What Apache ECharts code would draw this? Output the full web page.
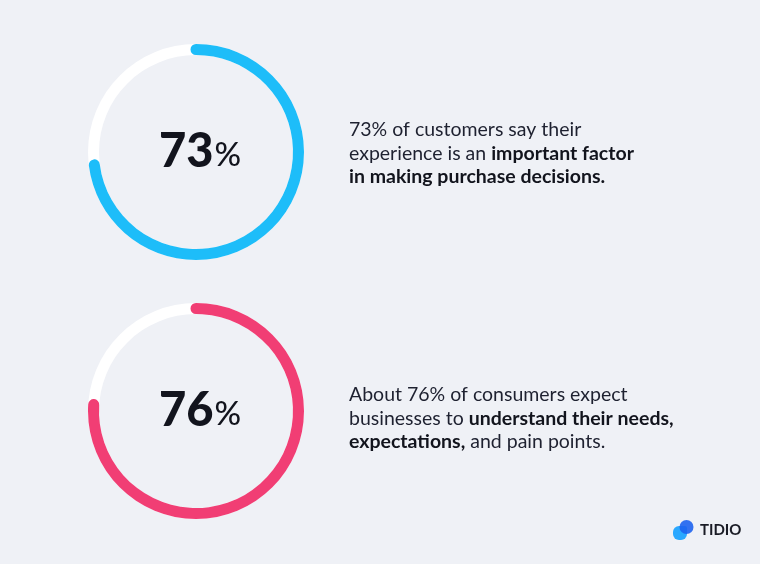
<!DOCTYPE html>
<html>
<head>
<meta charset="utf-8">
<script src="https://cdn.jsdelivr.net/npm/echarts@6/dist/echarts.min.js"></script>
<style>
html,body{margin:0;padding:0;background:#eff1f6;}
#c{width:760px;height:564px;}
</style>
</head>
<body>
<div id="c"></div>
<script>
// Data
const percentValues = [73, 76];
const ringColors = ['#1dbdf9', '#f13e74'];
const descriptions = [
  '73% of customers say their\nexperience is an {b|important factor}\n{b|in making purchase decisions.}',
  'About 76% of consumers expect\nbusinesses to {b|understand their needs,}\n{b|expectations,} and pain points.'
];
const brandName = 'TIDIO';

const centersY = [152, 411];
const descTops = [118, 383];
const chart = echarts.init(document.getElementById('c'), null, {renderer: 'canvas'});

const series = percentValues.map((v, i) => ({
  type: 'gauge',
  center: [196, centersY[i]],
  radius: 108,
  startAngle: 90,
  endAngle: -270,
  min: 0,
  max: 100,
  pointer: {show: false},
  progress: {show: true, roundCap: true, width: 11, itemStyle: {color: ringColors[i]}},
  axisLine: {lineStyle: {width: 11, color: [[1, '#ffffff']]}},
  splitLine: {show: false},
  axisTick: {show: false},
  axisLabel: {show: false},
  title: {show: false},
  detail: {
    offsetCenter: [4, 0],
    formatter: '{n|{value}}{p|%}',
    rich: {
      n: {fontFamily: 'Lato', fontWeight: 900, fontSize: 47, color: '#12141d'},
      p: {fontFamily: 'Lato', fontWeight: 500, fontSize: 33, color: '#12141d', padding: [7, 0, 0, 1]}
    }
  },
  data: [{value: v}]
}));

const descStyle = {
  fontFamily: 'Lato', fontWeight: 'normal', fontSize: 19.5, color: '#1e2130', lineHeight: 23.5,
  rich: {b: {fontFamily: 'Lato', fontWeight: 'bold', fontSize: 19.5, color: '#12141d', lineHeight: 23.5}}
};

chart.setOption({
  backgroundColor: '#eff1f6',
  animation: false,
  title: descriptions.map((d, i) => ({
    text: d,
    left: 349,
    top: descTops[i],
    padding: 0,
    textStyle: descStyle
  })),
  series: series,
  graphic: [
    {type: 'rect', shape: {x: 673, y: 526, width: 14, height: 14, r: [6, 2, 6, 6]}, style: {fill: '#2aa8ff'}},
    {type: 'circle', shape: {cx: 686.5, cy: 527, r: 7}, style: {fill: '#1d63f0', opacity: 0.9}},
    {type: 'text', left: 700, top: 523, style: {text: brandName, fontFamily: 'Lato', fontWeight: 'bold', fontSize: 15, fill: '#1a1c26'}}
  ]
});
</script>
</body>
</html>
